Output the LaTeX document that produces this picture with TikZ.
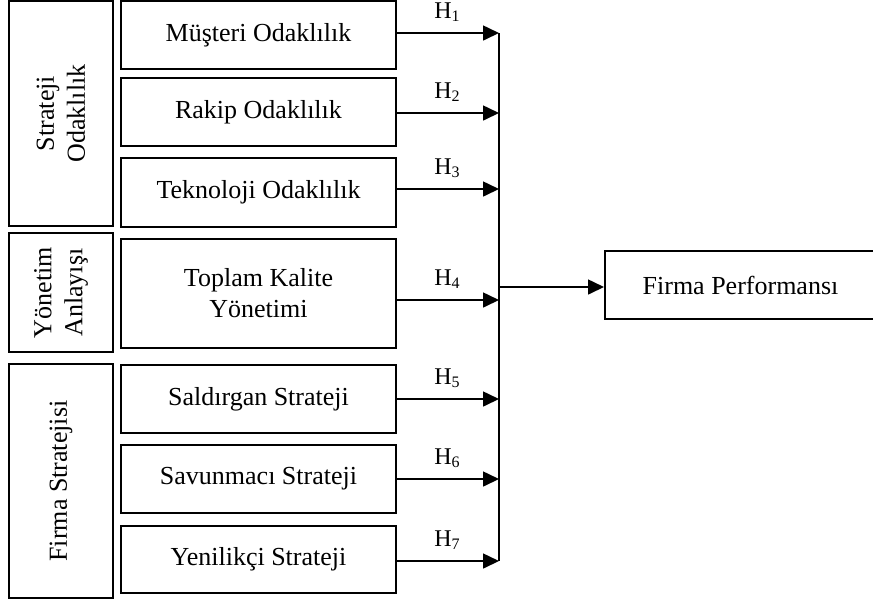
\documentclass[tikz,border=0pt]{standalone}
\usepackage{fontspec}
\setmainfont{Liberation Serif}
\usetikzlibrary{arrows.meta, positioning}

\tikzset{
	kutu/.style={draw, line width=1pt, align=center, inner sep=0pt,
		font=\fontsize{13}{15.5}\selectfont},
	orta/.style={kutu, minimum width=137.5pt},
	grup/.style={kutu, minimum width=52pt, rotate=90},
	ok/.style={line width=0.8pt, -{Triangle[length=8pt,width=7.5pt]}},
	hetiket/.style={anchor=base, inner sep=0pt, font=\fontsize{12}{14}\selectfont}
}

\begin{document}
\begin{tikzpicture}[x=0.5pt, y=-0.5pt]
	\useasboundingbox (0,0) rectangle (873,602);
	%
	% grup kutulari
	\node[grup, minimum height=52pt, minimum width=112.5pt] (strateji) at (61,113.5) {Strateji\\Odaklılık};
	\node[grup, minimum height=52pt, minimum width=59.5pt] (yonetim) at (61,292.5) {Yönetim\\Anlayışı};
	\node[grup, minimum height=52pt, minimum width=117pt] (firmastr) at (61,481) {Firma Stratejisi};
	%
	% degiskenler
	\node[orta, minimum height=34pt] (musteri) at (258.5,35) {Müşteri Odaklılık};
	\node[orta, minimum height=34pt] (rakip) at (258.5,112) {Rakip Odaklılık};
	\node[orta, minimum height=34.5pt] (teknoloji) at (258.5,192.5) {Teknoloji Odaklılık};
	\node[orta, minimum height=54.5pt] (kalite) at (258.5,293.5) {Toplam Kalite\\Yönetimi};
	\node[orta, minimum height=34pt] (saldirgan) at (258.5,399) {Saldırgan Strateji};
	\node[orta, minimum height=34pt] (savunmaci) at (258.5,479) {Savunmacı Strateji};
	\node[orta, minimum height=33.5pt] (yenilikci) at (258.5,559.5) {Yenilikçi Strateji};
	%
	\node[kutu, minimum width=135.5pt, minimum height=34pt] (performans) at (740.5,285) {Firma Performansı};
	%
	% hipotez oklari
	\foreach \i/\kaynak/\yy in {1/musteri/33, 2/rakip/113, 3/teknoloji/189, 4/kalite/300,
		5/saldirgan/399, 6/savunmaci/479, 7/yenilikci/561} {
		\coordinate (b\i) at (499,\yy);
		\draw[ok] (\kaynak.east |- b\i) -- (b\i);
		\node[hetiket] (h\i) at (447.5,\yy-15) {H\textsubscript{\i}};
	}
	\draw[line width=0.8pt] (b1) -- (b7);
	%
	\coordinate (cikis) at (499,287);
	\draw[ok] (cikis) -- (performans.west |- cikis);
\end{tikzpicture}
\end{document}
